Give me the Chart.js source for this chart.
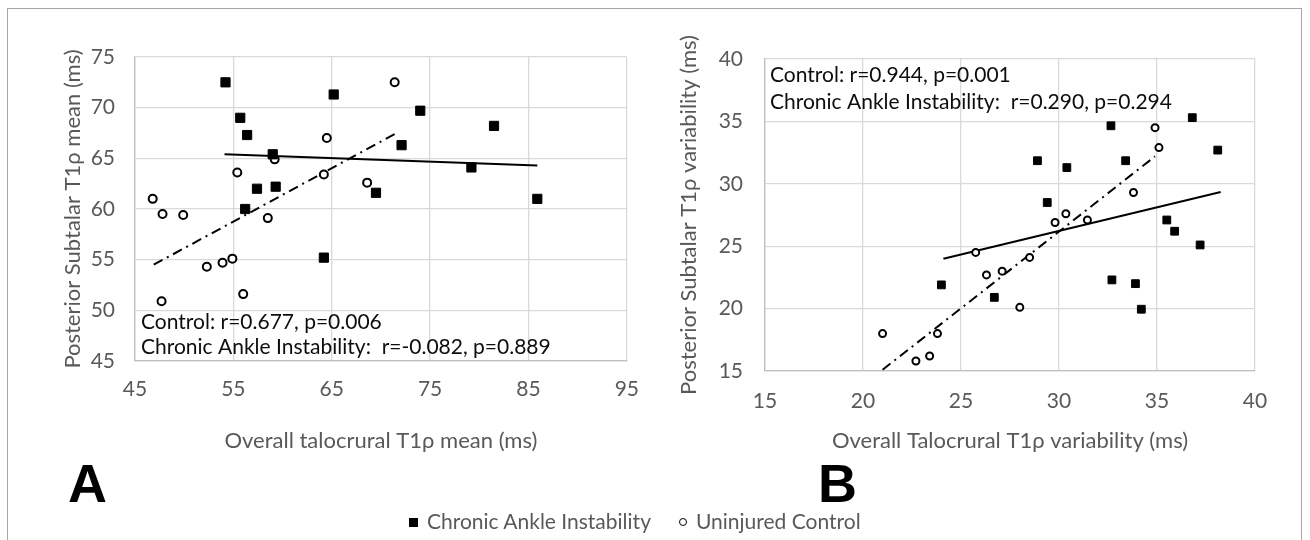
<!DOCTYPE html>
<html>
<head>
<meta charset="utf-8">
<script src="https://cdn.jsdelivr.net/npm/chart.js@4.4.1/dist/chart.umd.min.js"></script>
<style>
  body { margin: 0; background: #fff; width: 1310px; height: 540px; overflow: hidden; font-family: Lato, sans-serif; position: relative; }
  .frame { position: absolute; left: 7px; top: 8px; width: 1293px; height: 545px; border: 1px solid #a6a6a6; }
  canvas { position: absolute; top: 0; }
  #chartA { left: 0; }
  #chartB { left: 655px; }
  .tag { position: absolute; font: bold 54px "Liberation Sans", Arial, sans-serif; color: #000; line-height: 1; }
  .legend { position: absolute; top: 508px; left: 409px; font-size: 21px; color: #595959; white-space: nowrap; }
  .legend .sq { display: inline-block; width: 9px; height: 9px; background: #000; margin-right: 9px; vertical-align: 2px; }
  .legend .ci { display: inline-block; width: 6px; height: 6px; border: 1.5px solid #000; border-radius: 50%; margin: 0 9px 0 28px; vertical-align: 3px; }
</style>
</head>
<body>
<div class="frame"></div>
<canvas id="chartA" width="655" height="460"></canvas>
<canvas id="chartB" width="655" height="460"></canvas>
<div class="tag" style="left:68px; top:456px;">A</div>
<div class="tag" style="left:818px; top:456px;">B</div>
<div class="legend"><span class="sq"></span>Chronic Ankle Instability<span class="ci"></span>Uninjured Control</div>

<script>
Chart.defaults.font.family = 'Lato, sans-serif';
Chart.defaults.animation = false;

// PANEL A - mean values
const caiMeanX = [54.2, 55.7, 56.4, 59.0, 57.4, 59.3, 56.2, 64.2, 65.2, 69.5, 72.1, 74.0, 79.2, 81.5, 85.9];
const caiMeanY = [72.5, 69.0, 67.3, 65.4, 62.0, 62.2, 60.0, 55.2, 71.3, 61.6, 66.3, 69.7, 64.1, 68.2, 61.0];
const ctrlMeanX = [71.4, 64.5, 59.2, 55.4, 64.2, 68.6, 46.8, 47.8, 49.9, 58.5, 52.3, 53.9, 54.9, 56.0, 47.7];
const ctrlMeanY = [72.5, 67.0, 64.9, 63.6, 63.4, 62.6, 61.0, 59.5, 59.4, 59.1, 54.3, 54.7, 55.1, 51.6, 50.9];
// trendline ends
const caiMeanTrendX = [54.1, 85.9];
const caiMeanTrendY = [65.4, 64.3];
const ctrlMeanTrendX = [46.9, 71.6];
const ctrlMeanTrendY = [54.5, 67.5];
const statsA = ['Control: r=0.677, p=0.006', 'Chronic Ankle Instability:  r=-0.082, p=0.889'];

// PANEL B - variability
const caiVarX = [36.8, 32.65, 38.1, 28.9, 30.4, 33.4, 29.4, 35.5, 35.9, 37.2, 32.7, 33.9, 34.2, 24.0, 26.7];
const caiVarY = [35.3, 34.65, 32.7, 31.85, 31.3, 31.85, 28.5, 27.1, 26.2, 25.1, 22.3, 22.0, 19.95, 21.9, 20.9];
const ctrlVarX = [34.9, 35.1, 33.8, 30.35, 29.8, 31.45, 28.5, 28.0, 25.75, 26.3, 27.1, 21.0, 23.8, 22.7, 23.4];
const ctrlVarY = [34.5, 32.9, 29.3, 27.6, 26.9, 27.1, 24.1, 20.1, 24.5, 22.7, 23.0, 18.0, 18.0, 15.8, 16.2];
const caiVarTrendX = [24.1, 38.25];
const caiVarTrendY = [24.0, 29.35];
const ctrlVarTrendX = [21.0, 34.9];
const ctrlVarTrendY = [15.1, 32.2];
const statsB = ['Control: r=0.944, p=0.001', 'Chronic Ankle Instability:  r=0.290, p=0.294'];

function pts(xs, ys) {
    return xs.map((x, i) => ({ x: x, y: ys[i] }));
}

// writes the r / p lines inside the plot area
const statsText = {
    id: 'statsText',
    afterDatasetsDraw(chart, args, opts) {
        const { ctx, chartArea } = chart;
        ctx.save();
        ctx.font = '21px Lato, sans-serif';
        ctx.fillStyle = '#0d0d0d';
        ctx.textBaseline = 'middle';
        opts.lines.forEach((t, i) => {
            const base = opts.fromBottom ? chartArea.bottom : chartArea.top;
            ctx.fillText(t, chartArea.left + opts.dx, base + opts.dy[i]);
        });
        ctx.restore();
    }
};

function scatterSets(cx, cy, kx, ky, tcx, tcy, tkx, tky, sq, ci) {
    return [
        {
            label: 'Chronic Ankle Instability trend',
            data: pts(tcx, tcy),
            showLine: true,
            borderColor: '#000',
            borderWidth: 2,
            pointRadius: 0,
            order: 3
        },
        {
            label: 'Control trend',
            data: pts(tkx, tky),
            showLine: true,
            borderColor: '#000',
            borderWidth: 2,
            borderDash: [10, 5, 2, 5],
            pointRadius: 0,
            order: 4
        },
        {
            label: 'Chronic Ankle Instability',
            data: pts(cx, cy),
            pointStyle: 'rect',
            pointRadius: sq,
            backgroundColor: '#000',
            borderColor: '#000',
            borderWidth: 1,
            order: 1
        },
        {
            label: 'Uninjured Control',
            data: pts(kx, ky),
            pointStyle: 'circle',
            pointRadius: ci,
            backgroundColor: '#fff',
            borderColor: '#000',
            borderWidth: 2,
            order: 2
        }
    ];
}

function axis(min, max, step, title, pad, fitSize, isY, titlePad) {
    return {
        type: 'linear',
        min: min,
        max: max,
        ticks: {
            stepSize: step,
            padding: pad,
            color: '#595959',
            font: { size: 21 }
        },
        grid: { color: '#d9d9d9', drawTicks: false, lineWidth: 1.3 },
        border: { color: '#bfbfbf', width: 1.3 },
        title: {
            display: true,
            text: title,
            color: '#595959',
            font: { size: 22 },
            padding: isY ? { top: titlePad, bottom: 0 } : { top: 0, bottom: titlePad }
        },
        afterFit: isY ? (s) => { s.width = fitSize; } : (s) => { s.height = fitSize; }
    };
}

const configA = {
    type: 'scatter',
    data: {
        datasets: scatterSets(caiMeanX, caiMeanY, ctrlMeanX, ctrlMeanY,
            caiMeanTrendX, caiMeanTrendY, ctrlMeanTrendX, ctrlMeanTrendY, 6.5, 4)
    },
    options: {
        responsive: false,
        layout: { padding: { top: 57, right: 17, bottom: 6, left: 0 } },
        scales: {
            x: axis(45, 95, 10, 'Overall talocrural T1ρ mean (ms)', 16, 93, false, 0),
            y: axis(45, 75, 5, 'Posterior Subtalar T1ρ mean (ms)', 20, 135, true, 60)
        },
        plugins: {
            legend: { display: false },
            tooltip: { enabled: false },
            statsText: { lines: statsA, dx: 6, dy: [-39, -14], fromBottom: true }
        }
    },
    plugins: [statsText]
};

const configB = {
    type: 'scatter',
    data: {
        datasets: scatterSets(caiVarX, caiVarY, ctrlVarX, ctrlVarY,
            caiVarTrendX, caiVarTrendY, ctrlVarTrendX, ctrlVarTrendY, 5.5, 3.5)
    },
    options: {
        responsive: false,
        layout: { padding: { top: 59, right: 55, bottom: 6, left: 0 } },
        scales: {
            x: axis(15, 40, 5, 'Overall Talocrural T1ρ variability (ms)', 18, 83, false, 0),
            y: axis(15, 40, 5, 'Posterior Subtalar T1ρ variability (ms)', 22, 110, true, 21)
        },
        plugins: {
            legend: { display: false },
            tooltip: { enabled: false },
            statsText: { lines: statsB, dx: 5, dy: [16, 43], fromBottom: false }
        }
    },
    plugins: [statsText]
};

const chartA = new Chart(document.getElementById('chartA'), configA);
const chartB = new Chart(document.getElementById('chartB'), configB);
</script>
</body>
</html>
